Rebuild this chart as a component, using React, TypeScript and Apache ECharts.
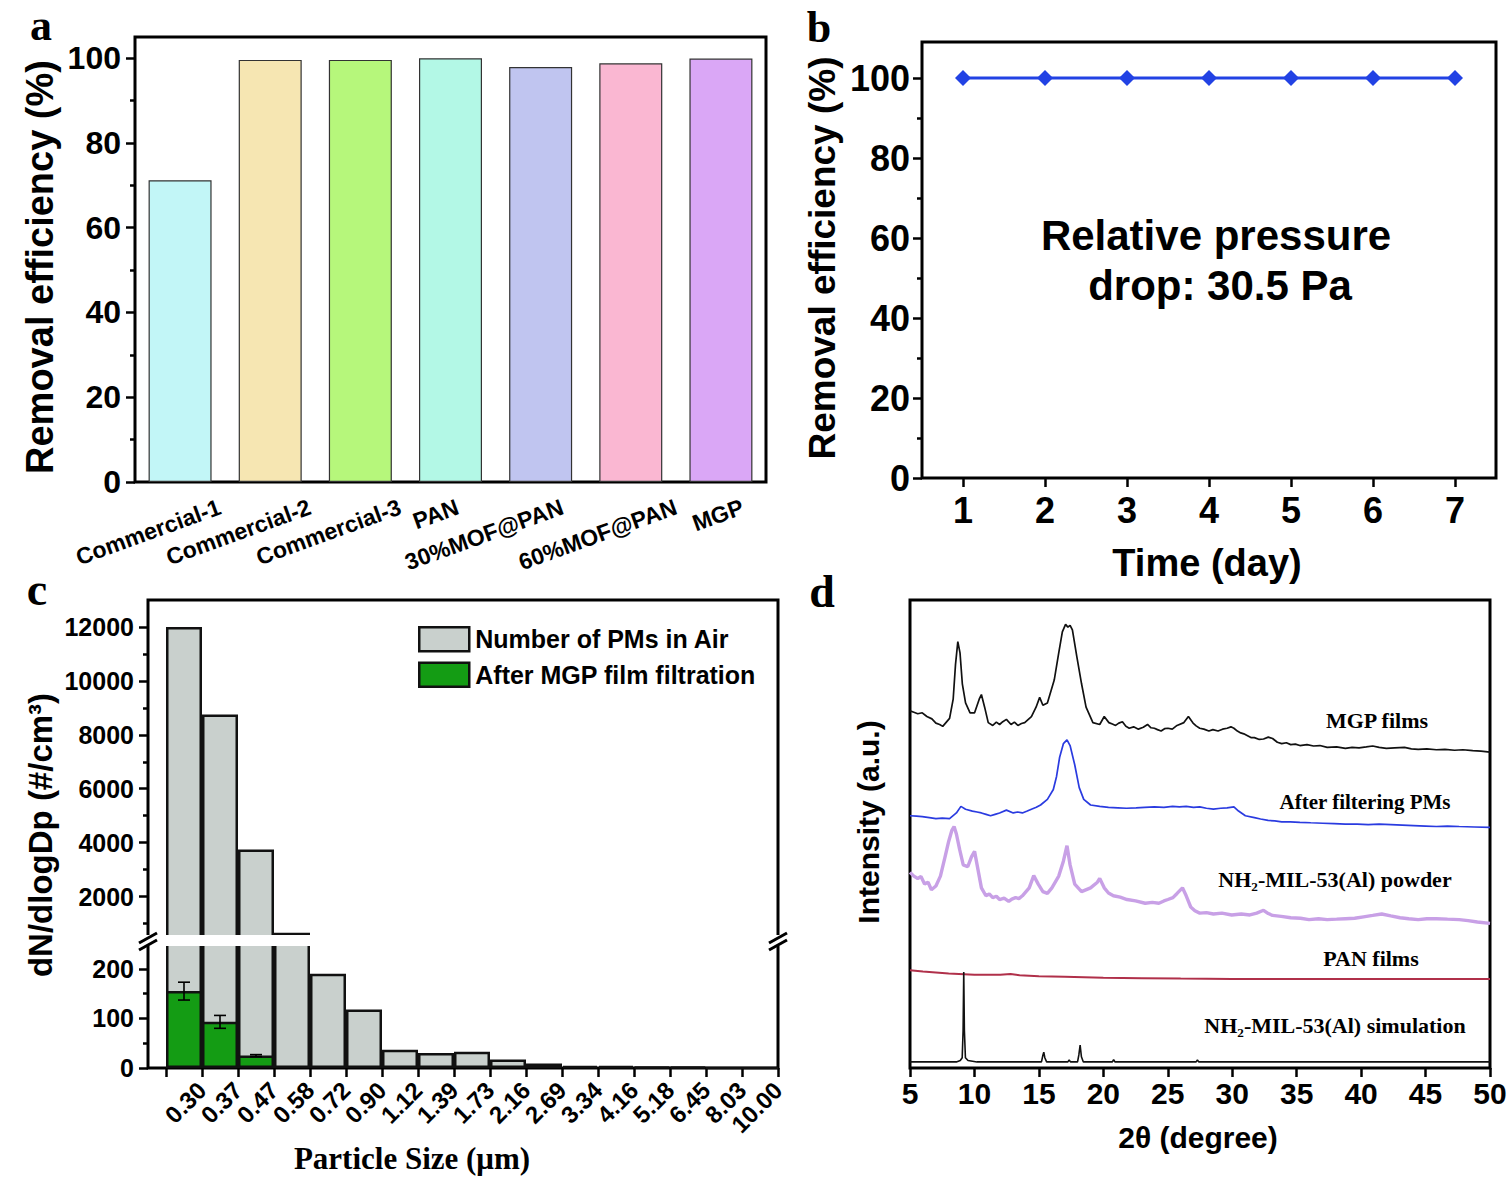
import React, { useEffect, useRef } from "react";
import * as echarts from "echarts";

const SANS = '"Liberation Sans", Arial, Helvetica, sans-serif';
const SERIF = '"Liberation Serif", "Times New Roman", serif';

// ---------- Panel a ----------
const filterNames = ["Commercial-1", "Commercial-2", "Commercial-3", "PAN", "30%MOF@PAN", "60%MOF@PAN", "MGP"];
const filterEfficiency = [71.2, 99.6, 99.6, 100, 97.9, 98.8, 99.9];
const filterColors = ["#c2f6f7", "#f6e6b2", "#b6f77b", "#b3f8e6", "#c0c5f0", "#fab7d2", "#daa7f6"];
const filterLabelShift = [0.44, 0.44, 0.44, 0.08, 0.24, 0.5, 0.24];

// ---------- Panel b ----------
const days = [1, 2, 3, 4, 5, 6, 7];
const dailyEfficiency = [100, 100, 100, 100, 100, 100, 100];

// ---------- Panel c ----------
const sizeLabels = ["0.30", "0.37", "0.47", "0.58", "0.72", "0.90", "1.12", "1.39", "1.73", "2.16", "2.69", "3.34", "4.16", "5.18", "6.45", "8.03", "10.00"];
const airCounts = [12000, 8750, 3750, 660, 190, 118, 37, 30, 33, 17, 9, 4, 4, 2, 2, 0, 0];
const filteredCounts = [155, 93, 25];
const filteredErr = [18, 13, 2];

// ---------- Panel d (2theta, stacked intensity in a.u.) ----------
const xrdMgp = [
  [5.0, 76.3], [5.3, 76.0], [5.6, 75.7], [5.95, 75.9], [6.31, 75.1], [6.7, 74.6], [7.01, 73.7], [7.3, 73.4], [7.54, 73.0], [8.07, 74.7],
  [8.35, 78.8], [8.53, 86.2], [8.71, 91.1], [8.88, 88.7], [9.06, 82.1], [9.31, 78.0], [9.66, 75.9], [10.01, 75.9], [10.37, 78.8],
  [10.54, 79.8], [10.79, 77.1], [11.07, 73.8], [11.42, 73.2], [11.7, 73.9], [11.95, 73.4], [12.2, 74.0], [12.48, 74.5], [12.84, 73.4],
  [13.1, 73.9], [13.37, 73.2], [13.65, 73.6], [13.9, 73.8], [14.42, 75.1], [14.78, 77.1], [15.06, 79.2], [15.31, 77.5], [15.66, 78.0],
  [16.19, 82.9], [16.54, 88.7], [16.82, 93.2], [17.07, 94.8], [17.25, 94.2], [17.42, 94.6], [17.6, 93.6], [17.95, 87.8], [18.31, 82.1],
  [18.66, 77.1], [19.19, 73.8], [19.72, 73.4], [20.07, 75.1], [20.43, 73.8], [20.7, 73.5], [20.95, 73.2], [21.2, 73.7], [21.48, 74.0],
  [21.75, 73.0], [22.01, 72.6], [22.35, 72.9], [22.72, 72.4], [23.1, 72.8], [23.43, 73.4], [23.7, 72.7], [23.96, 72.6], [24.2, 72.3],
  [24.48, 72.0], [24.75, 72.5], [25.01, 72.6], [25.35, 72.4], [25.72, 73.2], [26.25, 73.8], [26.6, 75.1], [26.96, 73.7], [27.2, 73.1],
  [27.48, 72.6], [27.8, 72.4], [28.19, 72.0], [28.5, 72.3], [28.9, 72.0], [29.25, 72.4], [29.6, 72.6], [29.9, 72.9], [30.13, 72.6],
  [30.4, 72.0], [30.66, 71.6], [30.9, 71.4], [31.19, 71.0], [31.45, 70.6], [31.72, 70.6], [32.1, 70.2], [32.43, 70.3], [32.8, 70.7],
  [33.13, 70.4], [33.5, 69.6], [33.84, 69.3], [34.2, 69.5], [34.54, 69.1], [34.9, 69.2], [35.25, 68.9], [35.8, 69.1], [36.31, 68.8],
  [36.8, 68.9], [37.37, 68.5], [38.1, 68.6], [38.78, 68.3], [39.3, 68.5], [39.84, 68.4], [40.4, 68.6], [40.9, 68.8], [41.4, 68.5],
  [41.96, 68.3], [42.6, 68.4], [43.37, 68.5], [43.9, 68.2], [44.43, 68.1], [45.1, 68.2], [45.84, 68.0], [46.5, 68.1], [47.25, 67.9],
  [47.9, 68.0], [48.66, 67.8], [49.3, 67.7], [50.0, 67.5],
];
const xrdAfter = [
  [5.0, 53.9], [5.5, 53.8], [5.95, 53.7], [6.5, 53.5], [7.01, 53.3], [7.5, 53.4], [8.07, 53.3], [8.6, 54.5], [8.95, 55.9], [9.31, 55.3],
  [9.84, 54.9], [10.2, 54.7], [10.54, 54.5], [10.9, 54.2], [11.25, 53.9], [11.6, 54.2], [11.95, 54.5], [12.48, 55.1], [13.01, 54.5],
  [13.35, 54.7], [13.72, 54.5], [14.1, 54.9], [14.42, 55.3], [14.8, 55.7], [15.13, 56.2], [15.66, 57.4], [16.12, 59.5], [16.37, 62.3],
  [16.61, 66.4], [16.9, 69.3], [17.18, 70.1], [17.42, 68.9], [17.78, 64.8], [18.13, 59.9], [18.48, 57.4], [19.01, 56.2], [19.72, 55.9],
  [20.4, 55.7], [21.13, 55.6], [21.8, 55.5], [22.54, 55.6], [23.2, 55.7], [23.96, 55.8], [24.7, 55.7], [25.37, 55.9], [25.9, 55.8],
  [26.43, 55.9], [27.0, 55.7], [27.48, 55.8], [28.0, 55.5], [28.54, 55.3], [29.1, 55.5], [29.6, 55.6], [30.13, 55.8], [30.49, 54.9],
  [31.02, 53.9], [31.72, 53.5], [32.2, 53.2], [32.78, 52.9], [33.3, 52.8], [33.84, 52.6], [34.5, 52.6], [35.25, 52.5], [36.1, 52.4],
  [37.02, 52.3], [37.9, 52.2], [38.78, 52.1], [39.7, 52.1], [40.55, 52.0], [41.4, 52.1], [42.31, 52.0], [43.2, 51.9], [44.08, 51.8],
  [45.0, 51.7], [45.84, 51.6], [46.7, 51.7], [47.61, 51.6], [48.8, 51.5], [50.0, 51.4],
];
const xrdPowder = [
  [5.0, 41.8], [5.3, 41.0], [5.6, 40.5], [5.85, 40.9], [6.13, 39.3], [6.4, 39.7], [6.66, 38.1], [7.01, 38.9], [7.36, 41.0], [7.72, 45.1],
  [8.0, 48.4], [8.25, 50.8], [8.42, 51.6], [8.6, 50.0], [8.85, 46.7], [9.13, 43.4], [9.48, 43.0], [9.77, 45.1], [10.01, 46.3], [10.26, 42.6],
  [10.54, 38.5], [10.89, 36.8], [11.15, 37.2], [11.42, 36.4], [11.7, 36.7], [11.95, 36.0], [12.3, 36.3], [12.66, 35.6], [12.9, 36.1],
  [13.19, 36.4], [13.45, 36.2], [13.72, 36.8], [14.25, 38.5], [14.6, 41.1], [14.95, 39.3], [15.31, 37.7], [15.66, 37.3], [16.01, 38.5],
  [16.54, 41.0], [16.9, 44.2], [17.18, 47.5], [17.42, 43.4], [17.78, 39.3], [18.31, 37.7], [19.01, 38.5], [19.54, 39.7], [19.72, 40.5],
  [20.07, 38.5], [20.4, 37.4], [20.78, 36.8], [21.3, 36.5], [21.84, 36.0], [22.5, 35.7], [23.25, 35.2], [23.8, 35.4], [24.31, 35.2],
  [24.7, 35.7], [25.01, 36.0], [25.4, 36.4], [25.72, 37.3], [26.14, 38.5], [26.43, 36.8], [26.78, 34.4], [27.1, 33.6], [27.48, 33.1],
  [28.0, 33.2], [28.54, 32.9], [29.2, 33.1], [29.96, 32.7], [30.7, 32.9], [31.37, 32.7], [31.9, 33.1], [32.43, 33.7], [32.8, 33.0],
  [33.13, 32.6], [33.8, 32.4], [34.54, 32.1], [35.3, 32.0], [35.96, 31.7], [36.7, 31.9], [37.37, 31.7], [38.1, 31.8], [38.78, 31.9],
  [39.5, 32.0], [40.19, 32.3], [40.9, 32.6], [41.6, 32.9], [42.3, 32.5], [43.02, 32.1], [43.7, 31.9], [44.43, 31.7], [45.1, 31.9],
  [45.84, 31.9], [46.7, 31.8], [47.61, 31.7], [48.3, 31.5], [49.02, 31.2], [50.0, 30.9],
];
const xrdPan = [
  [5.0, 20.9], [6.0, 20.6], [8.0, 20.2], [10.0, 19.9], [12.0, 19.9], [12.8, 20.1], [13.5, 19.8], [15.0, 19.6], [17.0, 19.5], [20.0, 19.3],
  [23.0, 19.2], [26.0, 19.1], [30.0, 19.0], [35.0, 19.0], [40.0, 19.0], [45.0, 19.0], [50.0, 19.0],
];
const xrdSim = [
  [5.0, 1.3], [8.6, 1.3], [8.9, 1.6], [9.05, 2.2], [9.12, 8.0], [9.17, 20.5], [9.22, 8.0], [9.3, 2.2], [9.5, 1.6], [10.2, 1.3],
  [15.2, 1.3], [15.3, 2.6], [15.38, 3.4], [15.46, 2.2], [15.6, 1.3], [17.25, 1.3], [17.35, 1.7], [17.45, 1.3], [18.0, 1.3], [18.1, 2.8],
  [18.2, 4.9], [18.3, 2.4], [18.45, 1.3], [20.7, 1.3], [20.8, 1.8], [20.9, 1.3], [27.2, 1.3], [27.3, 1.7], [27.4, 1.3], [50.0, 1.3],
];
const xrdTicks = [5, 10, 15, 20, 25, 30, 35, 40, 45, 50];

const tickStyle = { color: "#000", width: 2.5 };
const boldLabel = (size: number) => ({ fontFamily: SANS, fontWeight: "bold" as const, fontSize: size, color: "#000" });

function majorY(gridIndex: number, min: number, max: number, ticks: number[], size: number, margin: number) {
  return {
    type: "value", gridIndex, min, max, position: "left",
    axisLine: { show: false, onZero: false }, splitLine: { show: false },
    axisTick: { show: true, customValues: ticks, length: 9, lineStyle: tickStyle },
    axisLabel: { customValues: ticks, margin, ...boldLabel(size), formatter: (v: number) => String(v) },
  };
}
function minorY(gridIndex: number, min: number, max: number, ticks: number[]) {
  return {
    type: "value", gridIndex, min, max, position: "left",
    axisLine: { show: false, onZero: false }, splitLine: { show: false },
    axisTick: { show: true, customValues: ticks, length: 5, lineStyle: tickStyle },
    axisLabel: { show: false },
  };
}

function text(x: number, y: number, t: string, size: number, opts: any = {}) {
  return {
    type: "text", x, y, rotation: opts.rotation || 0, z: 60,
    style: {
      text: t, fill: "#000", fontFamily: opts.font || SANS, fontWeight: "bold", fontSize: size,
      align: "center", verticalAlign: "middle",
    },
  };
}

export default function App() {
  const ref = useRef<HTMLDivElement>(null);
  useEffect(() => {
    if (!ref.current) return;
    const chart = echarts.init(ref.current, undefined, { renderer: "svg" });
    const gridBase = { show: true, borderColor: "#000", borderWidth: 3, backgroundColor: "transparent", containLabel: false };
    const binEdges = sizeLabels.map((_, i) => i).concat([sizeLabels.length]);
    const grayStyle = { color: "#c9d0cd", borderColor: "#111", borderWidth: 2.5 };
    const noLine = { show: false, onZero: false };

    const option: any = {
      animation: false,
      backgroundColor: "#fff",
      grid: [
        { ...gridBase, left: 135, top: 37, width: 631, height: 445 },
        { ...gridBase, left: 922, top: 42, width: 574, height: 436 },
        { ...gridBase, left: 148, top: 600, width: 630, height: 337 },
        { ...gridBase, left: 148, top: 944, width: 630, height: 124 },
        { ...gridBase, left: 910, top: 600, width: 580, height: 468 },
      ],
      xAxis: [
        {
          type: "value", gridIndex: 0, min: -0.5, max: 6.5, position: "bottom",
          axisLine: noLine, splitLine: { show: false }, axisTick: { show: false },
          axisLabel: {
            customValues: filterNames.map((_, i) => i + filterLabelShift[i]),
            rotate: 20, margin: 24, ...boldLabel(23),
            formatter: (v: number) => filterNames[Math.round(v - 0.25)] || "",
          },
        },
        {
          type: "value", gridIndex: 1, min: 0.5, max: 7.5, position: "bottom",
          axisLine: noLine, splitLine: { show: false },
          axisTick: { show: true, customValues: days, length: 9, lineStyle: tickStyle },
          axisLabel: { customValues: days, margin: 14, ...boldLabel(36) },
        },
        { type: "value", gridIndex: 2, min: -0.5, max: 17, show: false, axisLine: noLine, splitLine: { show: false } },
        {
          type: "value", gridIndex: 3, min: -0.5, max: 17, position: "bottom",
          axisLine: noLine, splitLine: { show: false },
          axisTick: { show: true, customValues: binEdges, length: 9, lineStyle: tickStyle },
          axisLabel: {
            customValues: binEdges.slice(1), rotate: 45, margin: 18, ...boldLabel(24),
            formatter: (v: number) => sizeLabels[Math.round(v) - 1] || "",
          },
        },
        {
          type: "value", gridIndex: 4, min: 5, max: 50, position: "bottom",
          axisLine: noLine, splitLine: { show: false },
          axisTick: { show: true, customValues: xrdTicks, length: 9, lineStyle: tickStyle },
          axisLabel: { customValues: xrdTicks, margin: 10, ...boldLabel(30) },
        },
      ],
      yAxis: [
        majorY(0, 0, 105, [0, 20, 40, 60, 80, 100], 32, 14),
        minorY(0, 0, 105, [10, 30, 50, 70, 90]),
        majorY(1, 0, 109, [0, 20, 40, 60, 80, 100], 36, 12),
        minorY(1, 0, 109, [10, 30, 50, 70, 90]),
        majorY(2, 500, 13000, [2000, 4000, 6000, 8000, 10000, 12000], 25, 14),
        minorY(2, 500, 13000, [1000, 3000, 5000, 7000, 9000, 11000]),
        majorY(3, 0, 250, [0, 100, 200], 25, 14),
        minorY(3, 0, 250, [50, 150]),
        { type: "value", gridIndex: 4, min: 0, max: 100, show: false, axisLine: noLine, splitLine: { show: false } },
      ],
      legend: {
        data: ["Number of PMs in Air", "After MGP film filtration"],
        left: 413, top: 621, orient: "vertical", icon: "rect",
        itemWidth: 50, itemHeight: 24, itemGap: 9, selectedMode: false,
        itemStyle: { borderColor: "#111", borderWidth: 2.5 },
        textStyle: { ...boldLabel(25), padding: [0, 0, 0, 1] },
      },
      series: [
        {
          name: "removal", type: "bar", xAxisIndex: 0, yAxisIndex: 0, barWidth: 63,
          itemStyle: { borderColor: "#333", borderWidth: 1.2 },
          data: filterEfficiency.map((v, i) => ({ value: [i, v], itemStyle: { color: filterColors[i] } })),
        },
        {
          name: "stability", type: "line", xAxisIndex: 1, yAxisIndex: 2,
          symbol: "diamond", symbolSize: 16,
          lineStyle: { color: "#2242e4", width: 3 }, itemStyle: { color: "#2242e4" },
          data: days.map((d, i) => [d, dailyEfficiency[i]]),
        },
        {
          name: "Number of PMs in Air", type: "bar", xAxisIndex: 2, yAxisIndex: 4, barWidth: 36, clip: true,
          itemStyle: grayStyle, data: airCounts.map((v, i) => [i + 0.5, v]),
        },
        {
          name: "Number of PMs in Air", type: "bar", xAxisIndex: 3, yAxisIndex: 6, barWidth: 36, barGap: "-100%", clip: true,
          itemStyle: grayStyle, data: airCounts.map((v, i) => [i + 0.5, v]),
        },
        {
          name: "After MGP film filtration", type: "bar", xAxisIndex: 3, yAxisIndex: 6, barWidth: 36, barGap: "-100%", clip: true,
          itemStyle: { color: "#149c14", borderColor: "#111", borderWidth: 2.5 },
          data: filteredCounts.map((v, i) => [i + 0.5, v]),
        },
        {
          name: "err", type: "custom", xAxisIndex: 3, yAxisIndex: 6, z: 5,
          encode: { x: 0, y: [1, 2] },
          data: filteredCounts.map((v, i) => [i + 0.5, v - filteredErr[i], v + filteredErr[i]]),
          renderItem: (params: any, api: any) => {
            const x = api.value(0);
            const top = api.coord([x, api.value(2)]);
            const bot = api.coord([x, api.value(1)]);
            const cap = 6;
            const st = { stroke: "#000", lineWidth: 1.6 };
            return {
              type: "group",
              children: [
                { type: "line", shape: { x1: top[0], y1: top[1], x2: bot[0], y2: bot[1] }, style: st },
                { type: "line", shape: { x1: top[0] - cap, y1: top[1], x2: top[0] + cap, y2: top[1] }, style: st },
                { type: "line", shape: { x1: bot[0] - cap, y1: bot[1], x2: bot[0] + cap, y2: bot[1] }, style: st },
              ],
            };
          },
        },
        { name: "MGP films", type: "line", xAxisIndex: 4, yAxisIndex: 8, showSymbol: false, lineStyle: { color: "#111", width: 1.7 }, data: xrdMgp },
        { name: "After filtering PMs", type: "line", xAxisIndex: 4, yAxisIndex: 8, showSymbol: false, lineStyle: { color: "#2a3be0", width: 1.7 }, data: xrdAfter },
        { name: "powder", type: "line", xAxisIndex: 4, yAxisIndex: 8, showSymbol: false, lineStyle: { color: "#c8a0e6", width: 3.4 }, data: xrdPowder },
        { name: "PAN films", type: "line", xAxisIndex: 4, yAxisIndex: 8, showSymbol: false, lineStyle: { color: "#b0304a", width: 2 }, data: xrdPan },
        { name: "simulation", type: "line", xAxisIndex: 4, yAxisIndex: 8, showSymbol: false, lineStyle: { color: "#111", width: 1.6 }, data: xrdSim },
      ],
      graphic: [
        // broken-axis gap in panel c
        { type: "rect", z: 100, shape: { x: 143, y: 935, width: 640, height: 11 }, style: { fill: "#fff" } },
        { type: "line", z: 101, shape: { x1: 139, y1: 943, x2: 157, y2: 933 }, style: { stroke: "#000", lineWidth: 3 } },
        { type: "line", z: 101, shape: { x1: 139, y1: 950, x2: 157, y2: 940 }, style: { stroke: "#000", lineWidth: 3 } },
        { type: "line", z: 101, shape: { x1: 769, y1: 943, x2: 787, y2: 933 }, style: { stroke: "#000", lineWidth: 3 } },
        { type: "line", z: 101, shape: { x1: 769, y1: 950, x2: 787, y2: 940 }, style: { stroke: "#000", lineWidth: 3 } },
        // panel letters
        text(41, 25, "a", 44, { font: SERIF }),
        text(819, 27, "b", 44, { font: SERIF }),
        text(37, 589, "c", 46, { font: SERIF }),
        text(822, 591, "d", 46, { font: SERIF }),
        // axis titles
        text(40, 267, "Removal efficiency (%)", 38, { rotation: Math.PI / 2 }),
        text(822, 258, "Removal efficiency (%)", 37, { rotation: Math.PI / 2 }),
        text(1207, 563, "Time (day)", 38),
        text(1216, 235, "Relative pressure", 42),
        text(1220, 285, "drop: 30.5 Pa", 42),
        text(40, 835, "dN/dlogDp (#/cm³)", 33, { rotation: Math.PI / 2 }),
        text(412, 1158, "Particle Size (μm)", 31, { font: SERIF }),
        text(868, 822, "Intensity (a.u.)", 30, { rotation: Math.PI / 2 }),
        text(1198, 1137, "2θ (degree)", 30),
        // XRD curve labels
        text(1377, 720, "MGP films", 22, { font: SERIF }),
        text(1365, 802, "After filtering PMs", 21, { font: SERIF }),
        text(1335, 879, "NH₂-MIL-53(Al) powder", 22, { font: SERIF }),
        text(1371, 958, "PAN films", 22, { font: SERIF }),
        text(1335, 1025, "NH₂-MIL-53(Al) simulation", 22, { font: SERIF }),
      ],
    };
    chart.setOption(option);
    return () => chart.dispose();
  }, []);
  return (
    <div
      ref={ref}
      style={{ position: "absolute", left: 0, top: 0, width: 1511, height: 1179, background: "#fff" }}
    />
  );
}
